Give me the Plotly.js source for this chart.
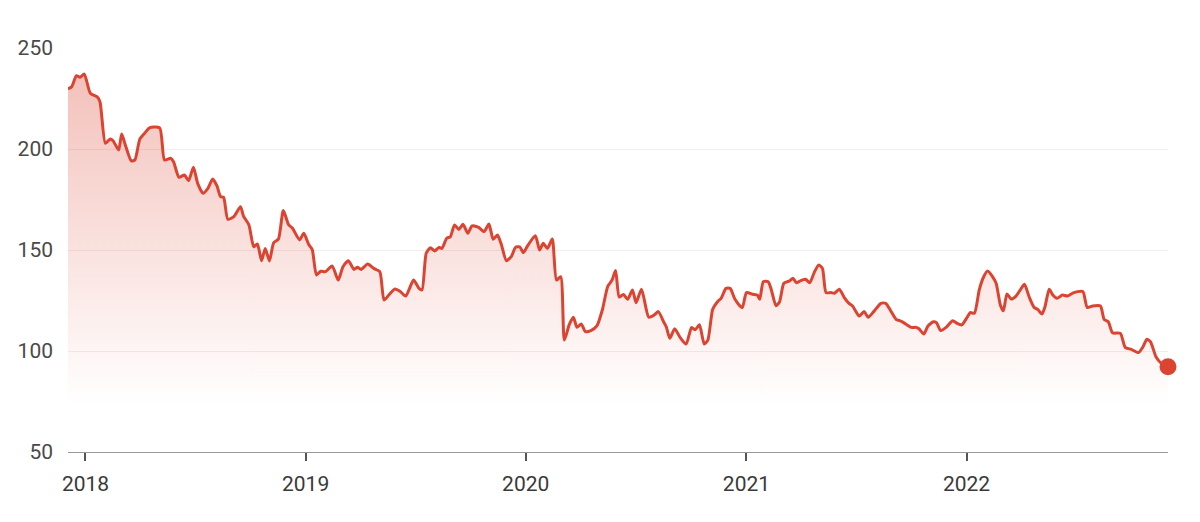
<!DOCTYPE html>
<html>
<head>
<meta charset="utf-8">
<script src="https://cdn.plot.ly/plotly-3.0.1.min.js"></script>
<style>
  html, body { margin: 0; padding: 0; background: #fff; }
  #mainPlot { width: 1200px; height: 522px; }
</style>
</head>
<body>
<div id="mainPlot"></div>
<script>
const MAINPLOT = document.getElementById('mainPlot');

// price series
const dates = [
  '2017-12-03', '2017-12-09', '2017-12-17', '2017-12-23', '2017-12-30',
  '2018-01-09', '2018-01-20', '2018-01-25', '2018-02-03', '2018-02-11',
  '2018-02-16', '2018-02-25', '2018-03-02', '2018-03-09', '2018-03-18',
  '2018-03-24', '2018-04-01', '2018-04-10', '2018-04-17', '2018-05-04',
  '2018-05-12', '2018-05-22', '2018-05-27', '2018-06-05', '2018-06-14',
  '2018-06-21', '2018-06-29', '2018-07-06', '2018-07-15', '2018-07-23',
  '2018-07-31', '2018-08-07', '2018-08-13', '2018-08-18', '2018-08-25',
  '2018-09-04', '2018-09-15', '2018-09-20', '2018-09-29', '2018-10-07',
  '2018-10-13', '2018-10-20', '2018-10-26', '2018-11-02', '2018-11-09',
  '2018-11-17', '2018-11-25', '2018-12-04', '2018-12-10', '2018-12-22',
  '2018-12-29', '2019-01-06', '2019-01-12', '2019-01-19', '2019-01-26',
  '2019-02-03', '2019-02-14', '2019-02-24', '2019-03-04', '2019-03-13',
  '2019-03-22', '2019-03-28', '2019-04-03', '2019-04-14', '2019-04-24',
  '2019-05-04', '2019-05-11', '2019-05-19', '2019-05-29', '2019-06-07',
  '2019-06-16', '2019-06-29', '2019-07-08', '2019-07-13', '2019-07-20',
  '2019-07-27', '2019-08-03', '2019-08-10', '2019-08-15', '2019-08-23',
  '2019-08-29', '2019-09-05', '2019-09-12', '2019-09-19', '2019-09-27',
  '2019-10-04', '2019-10-15', '2019-10-24', '2019-11-01', '2019-11-08',
  '2019-11-15', '2019-11-21', '2019-11-30', '2019-12-08', '2019-12-15',
  '2019-12-22', '2019-12-28', '2020-01-05', '2020-01-17', '2020-01-24',
  '2020-01-30', '2020-02-06', '2020-02-14', '2020-02-21', '2020-02-28',
  '2020-03-05', '2020-03-13', '2020-03-20', '2020-03-26', '2020-04-02',
  '2020-04-09', '2020-04-18', '2020-04-28', '2020-05-07', '2020-05-16',
  '2020-05-23', '2020-05-29', '2020-06-04', '2020-06-11', '2020-06-18',
  '2020-06-26', '2020-07-02', '2020-07-11', '2020-07-23', '2020-08-01',
  '2020-08-08', '2020-08-17', '2020-08-21', '2020-08-27', '2020-09-04',
  '2020-09-13', '2020-09-23', '2020-10-02', '2020-10-08', '2020-10-15',
  '2020-10-23', '2020-10-29', '2020-11-06', '2020-11-14', '2020-11-20',
  '2020-11-28', '2020-12-05', '2020-12-13', '2020-12-25', '2021-01-01',
  '2021-01-11', '2021-01-19', '2021-01-23', '2021-01-29', '2021-02-06',
  '2021-02-11', '2021-02-19', '2021-02-25', '2021-03-04', '2021-03-14',
  '2021-03-19', '2021-03-25', '2021-04-03', '2021-04-09', '2021-04-16',
  '2021-04-24', '2021-05-01', '2021-05-07', '2021-05-13', '2021-05-21',
  '2021-05-27', '2021-06-04', '2021-06-12', '2021-06-20', '2021-06-26',
  '2021-07-07', '2021-07-15', '2021-07-22', '2021-07-31', '2021-08-12',
  '2021-08-20', '2021-08-28', '2021-09-06', '2021-09-14', '2021-09-22',
  '2021-10-01', '2021-10-09', '2021-10-14', '2021-10-22', '2021-10-29',
  '2021-11-07', '2021-11-12', '2021-11-19', '2021-11-28', '2021-12-09',
  '2021-12-16', '2021-12-24', '2022-01-02', '2022-01-07', '2022-01-14',
  '2022-01-22', '2022-01-29', '2022-02-05', '2022-02-13', '2022-02-19',
  '2022-02-26', '2022-03-03', '2022-03-09', '2022-03-16', '2022-03-24',
  '2022-03-31', '2022-04-07', '2022-04-15', '2022-04-23', '2022-04-29',
  '2022-05-06', '2022-05-11', '2022-05-18', '2022-05-24', '2022-05-31',
  '2022-06-09', '2022-06-17', '2022-06-26', '2022-07-04', '2022-07-13',
  '2022-07-20', '2022-07-29', '2022-08-11', '2022-08-17', '2022-08-24',
  '2022-08-31', '2022-09-13', '2022-09-21', '2022-10-01', '2022-10-13',
  '2022-10-20', '2022-10-27', '2022-11-02', '2022-11-11', '2022-11-20',
  '2022-12-01'
];

const prices = [
  229.7, 230.8, 236.3, 235.5, 237.1,
  227.6, 225.9, 223.4, 202.8, 205.0,
  204.0, 199.5, 207.4, 201.1, 194.1,
  194.6, 204.8, 208.1, 210.5, 210.5,
  194.6, 195.4, 193.7, 186.0, 187.1,
  184.3, 191.0, 183.0, 178.1, 180.5,
  185.1, 181.7, 176.4, 176.1, 165.2,
  166.5, 171.4, 166.8, 162.4, 151.6,
  153.0, 144.7, 150.8, 144.6, 153.6,
  155.5, 169.5, 162.4, 160.9, 155.0,
  158.3, 152.8, 150.2, 137.6, 139.5,
  139.3, 142.1, 135.1, 141.7, 144.7,
  140.4, 141.4, 140.4, 143.1, 140.9,
  139.3, 125.2, 127.7, 130.7, 129.4,
  127.2, 135.1, 131.0, 130.2, 148.4,
  151.1, 149.5, 151.3, 150.8, 155.8,
  156.6, 162.4, 160.2, 162.7, 158.3,
  161.9, 161.2, 159.1, 162.9, 155.3,
  157.4, 153.3, 144.7, 146.7, 151.3,
  151.6, 148.7, 152.5, 157.1, 150.0,
  153.3, 150.8, 155.4, 135.1, 136.8,
  105.4, 112.9, 116.7, 111.7, 113.4,
  109.6, 110.1, 112.4, 120.3, 132.0,
  135.0, 139.8, 126.7, 128.0, 125.6,
  130.2, 123.9, 130.6, 116.7, 117.8,
  119.5, 114.2, 112.0, 106.3, 111.0,
  106.7, 103.4, 111.7, 110.5, 113.0,
  103.5, 105.4, 120.6, 124.4, 126.1,
  131.0, 131.0, 125.6, 121.4, 128.9,
  128.1, 127.7, 125.6, 134.3, 134.3,
  130.6, 122.4, 124.4, 133.5, 134.8,
  136.0, 133.8, 135.1, 135.5, 133.8,
  139.3, 142.6, 140.9, 128.9, 128.9,
  128.6, 130.6, 126.6, 123.6, 122.3,
  117.3, 119.5, 116.7, 119.5, 123.6,
  123.6, 120.0, 115.7, 114.8, 113.4,
  111.7, 111.7, 111.0, 108.4, 112.4,
  114.5, 114.0, 110.1, 111.7, 115.0,
  113.7, 112.9, 116.7, 119.0, 118.7,
  130.2, 136.5, 139.6, 136.8, 133.5,
  122.8, 119.9, 128.2, 125.7, 127.2,
  130.2, 133.0, 126.6, 121.6, 120.6,
  118.3, 121.9, 130.6, 127.7, 126.1,
  127.7, 127.2, 128.6, 129.4, 129.4,
  121.6, 122.3, 122.3, 115.7, 114.5,
  109.0, 108.7, 101.8, 100.8, 99.2,
  101.8, 105.8, 104.6, 97.2, 93.9,
  92.2
];

const yTicks = [50, 100, 150, 200, 250];
const xTicks = ['2018-01-01', '2019-01-01', '2020-01-01', '2021-01-01', '2022-01-01'];
const xTickLabels = ['2018', '2019', '2020', '2021', '2022'];
const fillBase = 73;   // where the shaded area fades out

const RED = '#dc4432';

var base = {
    x: [dates[0], dates[dates.length - 1]],
    y: [fillBase, fillBase],
    type: 'scatter',
    mode: 'lines',
    line: { width: 0 },
    hoverinfo: 'skip',
    showlegend: false
};

var price = {
    x: dates,
    y: prices,
    type: 'scatter',
    mode: 'lines',
    fill: 'tonexty',
    fillgradient: {
        type: 'vertical',
        start: fillBase,
        stop: Math.max(...prices),
        colorscale: [[0, 'rgba(220,68,50,0.0)'], [1, 'rgba(220,68,50,0.33)']]
    },
    line: { color: RED, width: 3, shape: 'spline', smoothing: 0.6 },
    showlegend: false
};

var lastPoint = {
    x: [dates[dates.length - 1]],
    y: [prices[prices.length - 1]],
    type: 'scatter',
    mode: 'markers',
    marker: { color: RED, size: 17 },
    cliponaxis: false,
    showlegend: false
};

var layout = {
    width: 1200,
    height: 522,
    margin: { l: 68, r: 32, t: 48, b: 70 },
    paper_bgcolor: '#fff',
    plot_bgcolor: '#fff',
    font: { family: 'Roboto, sans-serif', size: 21, color: '#444' },
    xaxis: {
        type: 'date',
        range: [dates[0], dates[dates.length - 1]],
        tickvals: xTicks,
        ticktext: xTickLabels,
        ticks: 'outside',
        ticklen: 8,
        tickwidth: 2,
        tickcolor: '#555',
        showgrid: false,
        showline: true,
        linecolor: '#999',
        linewidth: 1,
        zeroline: false,
        ticklabelstandoff: 5,
        tickfont: { size: 21, color: '#3a3a3a' }
    },
    yaxis: {
        range: [50, 250],
        tickvals: yTicks,
        showgrid: true,
        gridcolor: '#efefef',
        gridwidth: 1,
        zeroline: false,
        showline: false,
        ticks: '',
        ticklabelstandoff: 14,
        tickfont: { size: 21, color: '#4a4a4a' }
    },
    showlegend: false
};

Plotly.newPlot(MAINPLOT, [base, price, lastPoint], layout, { staticPlot: true });
</script>
</body>
</html>
